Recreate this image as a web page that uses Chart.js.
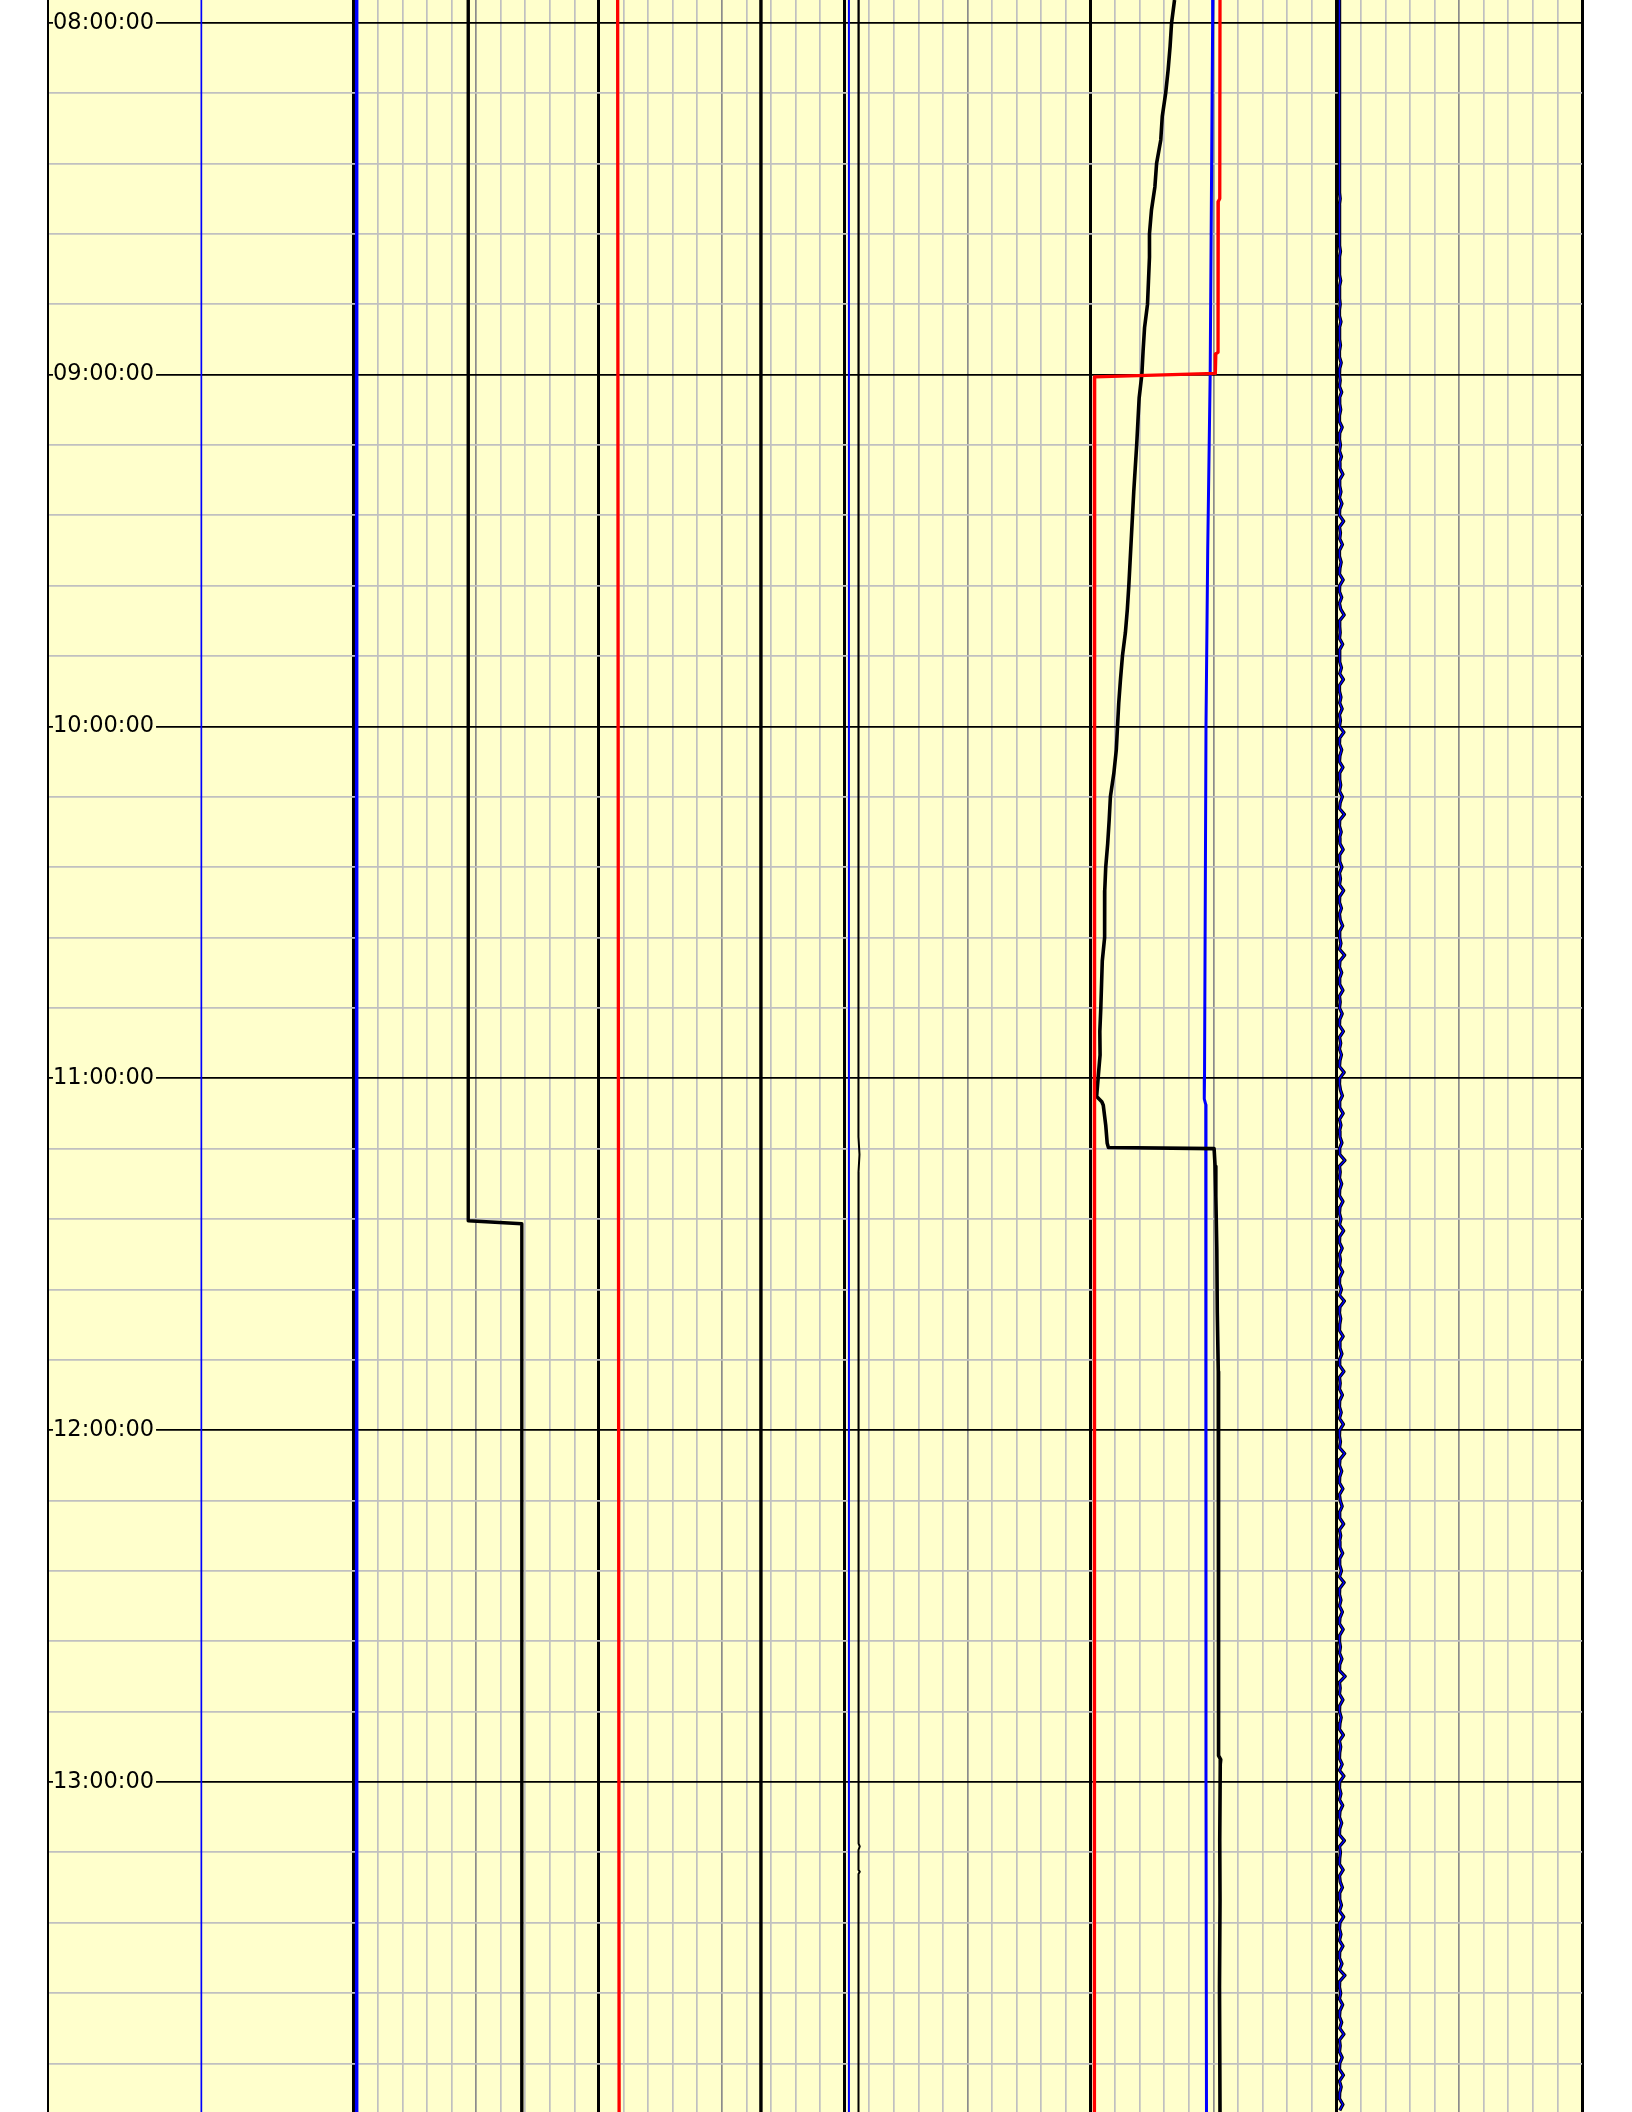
<!DOCTYPE html>
<html>
<head>
<meta charset="utf-8">
<script src="https://cdn.jsdelivr.net/npm/chart.js@4.4.1/dist/chart.umd.min.js"></script>
<style>
  html, body { margin: 0; padding: 0; background: #ffffff; }
  #wrap { width: 1632px; height: 2112px; }
</style>
</head>
<body>
<div id="wrap"><canvas id="logChart" width="1632" height="2112"></canvas></div>
<script>
// Time runs down the page in minutes after midnight; values use the
// track's grid divisions (0-50), the depth column sits left of 0.
const timeTop = 476.13;
const timeBottom = 836.28;
const valueLeft = -12.42;
const valueRight = 50;

const hourMarks = [480, 540, 600, 660, 720, 780];
const hourLabels = ["08:00:00", "09:00:00", "10:00:00", "11:00:00", "12:00:00", "13:00:00"];
const minuteStep = 12;

// curves drawn full length at (almost) one value
const fullSpan = [timeTop, timeBottom];
const depthBlueValues = [-6.18, -6.18];
const edgeBlueValues = [0.14, 0.14];
const midBlackValues = [16.59, 16.59];
const majorBlueValues = [20.17, 20.17];

const stepBlackTimes = [timeTop, 684.3, 684.8, timeBottom];
const stepBlackValues = [4.68, 4.68, 6.86, 6.86];

const leftRedTimes = [timeTop, 600, timeBottom];
const leftRedValues = [10.76, 10.78, 10.82];

const thinBlackTimes = [timeTop, 500, 520, 560, 600, 640, 670, 673, 676, 720, 760, 790.5, 791, 791.6, 795, 795.3, 795.7, timeBottom];
const thinBlackValues = [20.57, 20.56, 20.58, 20.55, 20.56, 20.55, 20.55, 20.60, 20.56, 20.57, 20.56, 20.56, 20.61, 20.56, 20.56, 20.61, 20.56, 20.56];

const rightRedTimes = [timeTop, 510, 510.5, 536.2, 536.5, 539.8, 540.4, timeBottom];
const rightRedValues = [35.27, 35.26, 35.20, 35.19, 35.10, 35.08, 30.17, 30.16];

const rightBlueTimes = [timeTop, 480, 540, 570, 600, 660, 663.5, 664.5, 690, 780, timeBottom];
const rightBlueValues = [34.98, 34.97, 34.87, 34.77, 34.70, 34.64, 34.63, 34.69, 34.70, 34.70, 34.72];

const driftBlackTimes = [
  timeTop, 480, 484, 488, 492, 496, 500, 504, 508, 512, 516, 520, 524, 528, 532, 536, 540,
  544, 548, 552, 556, 560, 564, 568, 572, 576, 580, 584, 588, 592, 596, 600,
  604, 608, 612, 616, 620, 624, 628, 632, 636, 640, 644, 648, 652, 656, 660,
  663.1, 664.0, 664.6, 668, 671.1, 671.8, 672.0, 675, 680, 689, 700, 710, 720,
  730, 740, 750, 760, 770, 775.5, 776.2, 777, 790, 800, 815, timeBottom
];
const driftBlackValues = [
  33.42, 33.30, 33.24, 33.16, 33.06, 32.92, 32.86, 32.69, 32.62, 32.48, 32.40, 32.40, 32.36, 32.32, 32.20, 32.14, 32.09,
  31.98, 31.93, 31.88, 31.82, 31.76, 31.71, 31.66, 31.61, 31.56, 31.50, 31.42, 31.30, 31.22, 31.15, 31.10,
  31.05, 30.95, 30.81, 30.76, 30.70, 30.62, 30.58, 30.57, 30.58, 30.48, 30.45, 30.42, 30.38, 30.39, 30.31,
  30.25, 30.46, 30.52, 30.62, 30.68, 30.73, 35.03, 35.07, 35.10, 35.14, 35.16, 35.20, 35.21,
  35.20, 35.22, 35.21, 35.22, 35.21, 35.21, 35.30, 35.28, 35.26, 35.27, 35.25, 35.27
];

// spiky trace on the 40 line, one sample per minute
const spikyStart = 476;
const spikyStep = 1;
const spikyValues = [
  40.13, 40.13, 40.14, 40.13, 40.13, 40.13, 40.14, 40.13, 40.13, 40.13,
  40.14, 40.13, 40.13, 40.13, 40.13, 40.14, 40.13, 40.13, 40.13, 40.14,
  40.13, 40.13, 40.15, 40.13, 40.13, 40.14, 40.13, 40.13, 40.13, 40.15,
  40.13, 40.14, 40.13, 40.13, 40.16, 40.13, 40.13, 40.14, 40.13, 40.13,
  40.15, 40.13, 40.13, 40.17, 40.13, 40.14, 40.13, 40.13, 40.18, 40.13,
  40.14, 40.13, 40.16, 40.13, 40.13, 40.19, 40.13, 40.14, 40.13, 40.17,
  40.13, 40.13, 40.20, 40.14, 40.13, 40.16, 40.13, 40.22, 40.13, 40.14,
  40.18, 40.13, 40.13, 40.24, 40.14, 40.13, 40.17, 40.13, 40.21, 40.13,
  40.15, 40.27, 40.13, 40.14, 40.19, 40.13, 40.23, 40.14, 40.13, 40.30,
  40.13, 40.17, 40.14, 40.25, 40.13, 40.13, 40.20, 40.15, 40.13, 40.28,
  40.14, 40.13, 40.22, 40.13, 40.18, 40.32, 40.13, 40.14, 40.16, 40.13,
  40.26, 40.13, 40.15, 40.13, 40.21, 40.14, 40.29, 40.13, 40.13, 40.19,
  40.14, 40.24, 40.13, 40.17, 40.13, 40.31, 40.14, 40.13, 40.22, 40.15,
  40.13, 40.27, 40.13, 40.14, 40.18, 40.13, 40.25, 40.16, 40.13, 40.33,
  40.14, 40.13, 40.20, 40.13, 40.15, 40.28, 40.13, 40.14, 40.23, 40.13,
  40.17, 40.13, 40.30, 40.14, 40.13, 40.21, 40.13, 40.16, 40.26, 40.13,
  40.14, 40.19, 40.13, 40.34, 40.15, 40.13, 40.22, 40.13, 40.14, 40.27,
  40.13, 40.16, 40.13, 40.24, 40.14, 40.13, 40.29, 40.13, 40.18, 40.13,
  40.21, 40.15, 40.13, 40.32, 40.14, 40.13, 40.17, 40.25, 40.13, 40.14,
  40.28, 40.13, 40.19, 40.13, 40.15, 40.23, 40.13, 40.14, 40.35, 40.13,
  40.16, 40.13, 40.22, 40.14, 40.13, 40.27, 40.15, 40.13, 40.19, 40.13,
  40.30, 40.14, 40.13, 40.24, 40.13, 40.17, 40.13, 40.26, 40.14, 40.13,
  40.21, 40.13, 40.33, 40.15, 40.13, 40.18, 40.14, 40.13, 40.28, 40.13,
  40.15, 40.23, 40.13, 40.14, 40.31, 40.13, 40.16, 40.13, 40.25, 40.14,
  40.13, 40.20, 40.13, 40.29, 40.14, 40.13, 40.17, 40.13, 40.34, 40.15,
  40.13, 40.22, 40.14, 40.13, 40.27, 40.13, 40.16, 40.24, 40.13, 40.14,
  40.30, 40.13, 40.18, 40.13, 40.15, 40.26, 40.13, 40.14, 40.21, 40.13,
  40.32, 40.14, 40.13, 40.19, 40.13, 40.25, 40.15, 40.13, 40.28, 40.14,
  40.13, 40.17, 40.13, 40.23, 40.14, 40.13, 40.36, 40.13, 40.16, 40.13,
  40.27, 40.14, 40.13, 40.20, 40.15, 40.13, 40.29, 40.13, 40.18, 40.14,
  40.13, 40.24, 40.13, 40.31, 40.14, 40.13, 40.19, 40.13, 40.26, 40.15,
  40.13, 40.22, 40.14, 40.13, 40.33, 40.13, 40.17, 40.14, 40.13, 40.28,
  40.13, 40.16, 40.25, 40.13, 40.14, 40.21, 40.13, 40.30, 40.15, 40.13,
  40.19, 40.13, 40.27, 40.14, 40.13, 40.23, 40.13, 40.35, 40.14, 40.13,
  40.18, 40.13, 40.26, 40.15, 40.13, 40.22, 40.14, 40.31, 40.13, 40.16,
  40.13, 40.24, 40.14, 40.13, 40.29, 40.13, 40.20, 40.14, 40.13, 40.27,
  40.14
];

function points(times, values) {
  return values.map(function (v, i) { return { x: v, y: times[i] }; });
}

function sampled(start, step, values) {
  return values.map(function (v, i) { return { x: v, y: start + i * step }; });
}

function trace(data, color, width) {
  return {
    data: data,
    showLine: true,
    borderColor: color,
    backgroundColor: color,
    borderWidth: width,
    borderJoinStyle: "round",
    pointRadius: 0,
    fill: false,
  };
}

const spikyPoints = sampled(spikyStart, spikyStep, spikyValues);

// first dataset ends up on top; the spiky trace gets a black edge underneath
const datasets = [
  trace(points(rightRedTimes, rightRedValues), "#ff0000", 3.3),
  trace(points(driftBlackTimes, driftBlackValues), "#000000", 3.6),
  trace(points(rightBlueTimes, rightBlueValues), "#0000ff", 3),
  trace(spikyPoints, "#0000ff", 1.4),
  trace(spikyPoints, "#000000", 3.4),
  trace(points(thinBlackTimes, thinBlackValues), "#000000", 2),
  trace(points(fullSpan, majorBlueValues), "#0000ff", 2),
  trace(points(fullSpan, midBlackValues), "#000000", 3.4),
  trace(points(leftRedTimes, leftRedValues), "#ff0000", 3.3),
  trace(points(stepBlackTimes, stepBlackValues), "#000000", 3.4),
  trace(points(fullSpan, edgeBlueValues), "#0000ff", 3.5),
  trace(points(fullSpan, depthBlueValues), "#0000ff", 1.7),
];

const timeTicks = [];
hourMarks.forEach(function (h) {
  for (let m = 0; m < 60; m += minuteStep) timeTicks.push(h + m);
});
const valueTicks = [];
for (let v = 0; v <= valueRight; v++) valueTicks.push(v);

const plotBackground = {
  id: "plotBackground",
  beforeDraw: function (chart) {
    const a = chart.chartArea;
    const ctx = chart.ctx;
    ctx.save();
    ctx.fillStyle = "#ffffcc";
    ctx.fillRect(a.left, a.top, a.right - a.left, a.bottom - a.top);
    ctx.restore();
  },
};

new Chart(document.getElementById("logChart"), {
  type: "scatter",
  data: { datasets: datasets },
  options: {
    responsive: false,
    animation: false,
    devicePixelRatio: 1,
    layout: { padding: { left: 48, right: 50, top: 0, bottom: 0 } },
    plugins: { legend: { display: false }, tooltip: { enabled: false } },
    scales: {
      x: {
        type: "linear",
        position: "bottom",
        min: valueLeft,
        max: valueRight,
        afterBuildTicks: function (axis) {
          axis.ticks = valueTicks.map(function (v) { return { value: v }; });
        },
        afterFit: function (axis) { axis.height = 0; },
        ticks: { display: false },
        border: { display: false },
        grid: {
          drawTicks: false,
          color: function (ctx) {
            const v = ctx.tick.value;
            if (v % 10 === 0) return "#000000";
            if (v % 5 === 0) return "#8c8c8c";
            return "#c0c0c0";
          },
          lineWidth: function (ctx) {
            return ctx.tick.value % 10 === 0 ? 3 : 1.7;
          },
        },
      },
      y: {
        type: "linear",
        position: "left",
        reverse: true,
        min: timeTop,
        max: timeBottom,
        afterBuildTicks: function (axis) {
          axis.ticks = timeTicks.map(function (v) { return { value: v }; });
        },
        afterFit: function (axis) {
          axis.width = 0;
          axis.paddingTop = 0;
          axis.paddingBottom = 0;
        },
        border: { display: true, color: "#000000", width: 2 },
        grid: {
          drawTicks: false,
          color: function (ctx) {
            return hourMarks.indexOf(ctx.tick.value) >= 0 ? "#000000" : "#c0c0c0";
          },
          lineWidth: 1.7,
        },
        ticks: {
          mirror: true,
          padding: 5,
          z: 1,
          autoSkip: false,
          color: "#000000",
          font: { family: "DejaVu Sans", size: 22.5 },
          showLabelBackdrop: true,
          backdropColor: function (ctx) {
            return hourMarks.indexOf(ctx.tick.value) >= 0 ? "#ffffcc" : "rgba(0,0,0,0)";
          },
          backdropPadding: { top: 0, bottom: 0, left: 0, right: 2 },
          callback: function (value) {
            const i = hourMarks.indexOf(value);
            return i >= 0 ? hourLabels[i] : "";
          },
        },
      },
    },
  },
  plugins: [plotBackground],
});
</script>
</body>
</html>
